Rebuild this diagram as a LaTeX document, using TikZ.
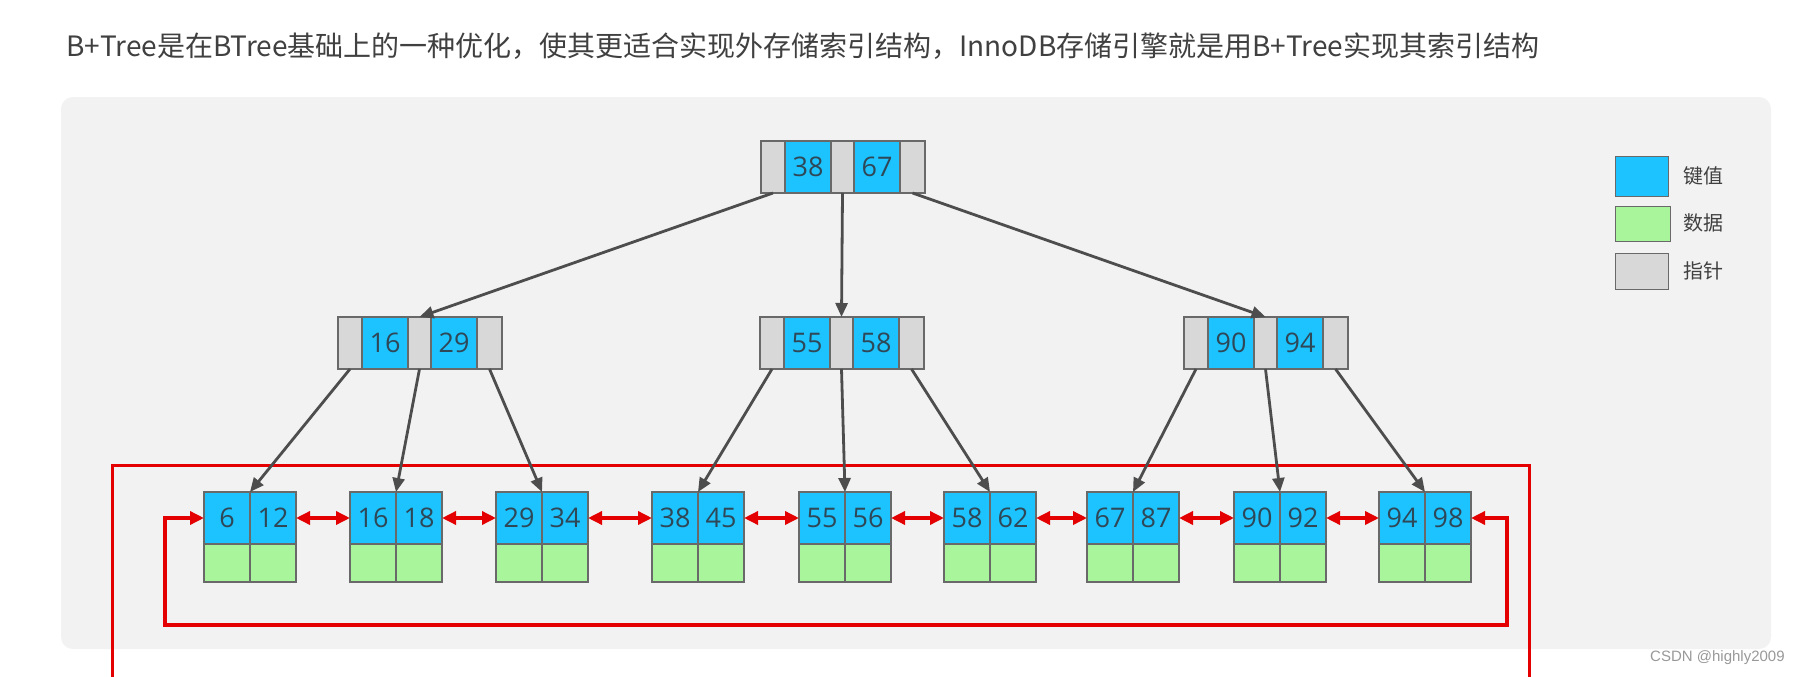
\documentclass[tikz,border=0pt]{standalone}
\usepackage{fontspec}
\usetikzlibrary{arrows.meta}
\newfontfamily\cjkfont{Noto Sans CJK SC}
\newfontfamily\numfont{Open Sans}
\newfontfamily\wmfont{Liberation Sans}
\definecolor{keyblue}{RGB}{28,195,255}
\definecolor{datagreen}{RGB}{169,245,156}
\definecolor{ptrgray}{RGB}{216,216,216}
\definecolor{cellborder}{RGB}{105,105,105}
\definecolor{panelgray}{RGB}{242,242,242}
\definecolor{linkred}{RGB}{228,0,0}
\definecolor{arrowgray}{RGB}{77,77,77}
\definecolor{digitcol}{RGB}{47,72,88}
\definecolor{titlecol}{RGB}{64,64,64}
\tikzset{
  cell/.style={draw=cellborder, line width=1.2pt, inner sep=0pt, outer sep=0pt, anchor=north west,
    font=\numfont\fontsize{27}{27}\selectfont, text=digitcol},
  ptrcell/.style={cell, fill=ptrgray, minimum height=52pt},
  keycell/.style={cell, fill=keyblue, minimum height=52pt, minimum width=46pt},
  datacell/.style={cell, fill=datagreen, minimum height=38pt, minimum width=46pt},
  treearrow/.style={draw=arrowgray, line width=2.8pt, -{Triangle[length=14pt,width=12pt]}},
  redlink/.style={draw=linkred, line width=3.4pt, {Triangle[length=14pt,width=13pt]}-{Triangle[length=14pt,width=13pt]}},
  redloop/.style={draw=linkred, line width=3pt},
  legendbox/.style={draw=cellborder, line width=1.2pt, inner sep=0pt, anchor=north west},
  legendtext/.style={anchor=west, inner sep=0pt, text=titlecol, font=\cjkfont\fontsize{20}{20}\selectfont},
}
\newcommand\inode[5]{%
  \node[ptrcell, minimum width=24pt] (#1p1) at (#2,#3) {};
  \node[keycell] (#1k1) at (#1p1.north east) {#4};
  \node[ptrcell, minimum width=23pt] (#1p2) at (#1k1.north east) {};
  \node[keycell] (#1k2) at (#1p2.north east) {#5};
  \node[ptrcell, minimum width=25pt] (#1p3) at (#1k2.north east) {};
}
\newcommand\leafnode[4]{%
  \node[keycell] (#1k1) at (#2,492) {#3};
  \node[keycell] (#1k2) at (#1k1.north east) {#4};
  \node[datacell] (#1d1) at (#1k1.south west) {};
  \node[datacell] (#1d2) at (#1k2.south west) {};
}
\begin{document}
\begin{tikzpicture}[x=1pt,y=-1pt]
\fill[white] (0,0) rectangle (1805,677);
\useasboundingbox (0,0) rectangle (1805,677);
% title
\node[anchor=west, inner sep=0pt, text=titlecol, font=\cjkfont\fontsize{28}{28}\selectfont] (title) at (66,46)
  {B+Tree是在BTree基础上的一种优化，使其更适合实现外存储索引结构，InnoDB存储引擎就是用B+Tree实现其索引结构};
% panel
\fill[panelgray, rounded corners=12pt] (61,97) rectangle (1771,649);
% outer red loop
\coordinate (oA) at (112,680);
\coordinate (oAt) at (112,465);
\coordinate (oBt) at (1529,465);
\coordinate (oB) at (1529,680);
\draw[redloop] (oA) -- (oAt) -- (oBt) -- (oB);
% internal nodes
\inode{r}{761}{141}{38}{67}
\inode{a}{338}{317}{16}{29}
\inode{b}{760}{317}{55}{58}
\inode{c}{1184}{317}{90}{94}
% leaves
\leafnode{l1}{204}{6}{12}
\leafnode{l2}{350}{16}{18}
\leafnode{l3}{496}{29}{34}
\leafnode{l4}{652}{38}{45}
\leafnode{l5}{799}{55}{56}
\leafnode{l6}{944}{58}{62}
\leafnode{l7}{1087}{67}{87}
\leafnode{l8}{1234}{90}{92}
\leafnode{l9}{1379}{94}{98}
% tree arrows
\draw[treearrow] (rp1.south) -- (ap2.north);
\draw[treearrow] (rp2.south) -- (bp2.north);
\draw[treearrow] (rp3.south) -- (cp2.north);
\draw[treearrow] (ap1.south) -- (l1k1.north east);
\draw[treearrow] (ap2.south) -- (l2k1.north east);
\draw[treearrow] (ap3.south) -- (l3k1.north east);
\draw[treearrow] (bp1.south) -- (l4k1.north east);
\draw[treearrow] (bp2.south) -- (l5k1.north east);
\draw[treearrow] (bp3.south) -- (l6k1.north east);
\draw[treearrow] (cp1.south) -- (l7k1.north east);
\draw[treearrow] (cp2.south) -- (l8k1.north east);
\draw[treearrow] (cp3.south) -- (l9k1.north east);
% leaf links
\draw[redlink] (l1k2.east) -- (l2k1.west);
\draw[redlink] (l2k2.east) -- (l3k1.west);
\draw[redlink] (l3k2.east) -- (l4k1.west);
\draw[redlink] (l4k2.east) -- (l5k1.west);
\draw[redlink] (l5k2.east) -- (l6k1.west);
\draw[redlink] (l6k2.east) -- (l7k1.west);
\draw[redlink] (l7k2.east) -- (l8k1.west);
\draw[redlink] (l8k2.east) -- (l9k1.west);
% inner loop
\coordinate (inL) at (165,625);
\coordinate (inR) at (1507,625);
\draw[redlink] (l1k1.west) -| (inL) -- (inR) |- (l9k2.east);
% legend
\node[legendbox, fill=keyblue, minimum width=53pt, minimum height=40pt] (lgk) at (1615,156) {};
\node[legendbox, fill=datagreen, minimum width=55pt, minimum height=35pt] (lgd) at (1615,206) {};
\node[legendbox, fill=ptrgray, minimum width=53pt, minimum height=36pt] (lgp) at (1615,253) {};
\node[legendtext] (lgkt) at (1683,176) {键值};
\node[legendtext] (lgdt) at (1683,223) {数据};
\node[legendtext] (lgpt) at (1683,271) {指针};
% watermark
\node[anchor=west, inner sep=0pt, text=gray!80, font=\wmfont\fontsize{15}{15}\selectfont] (wm) at (1650,658) {CSDN @highly2009};
\end{tikzpicture}
\end{document}
